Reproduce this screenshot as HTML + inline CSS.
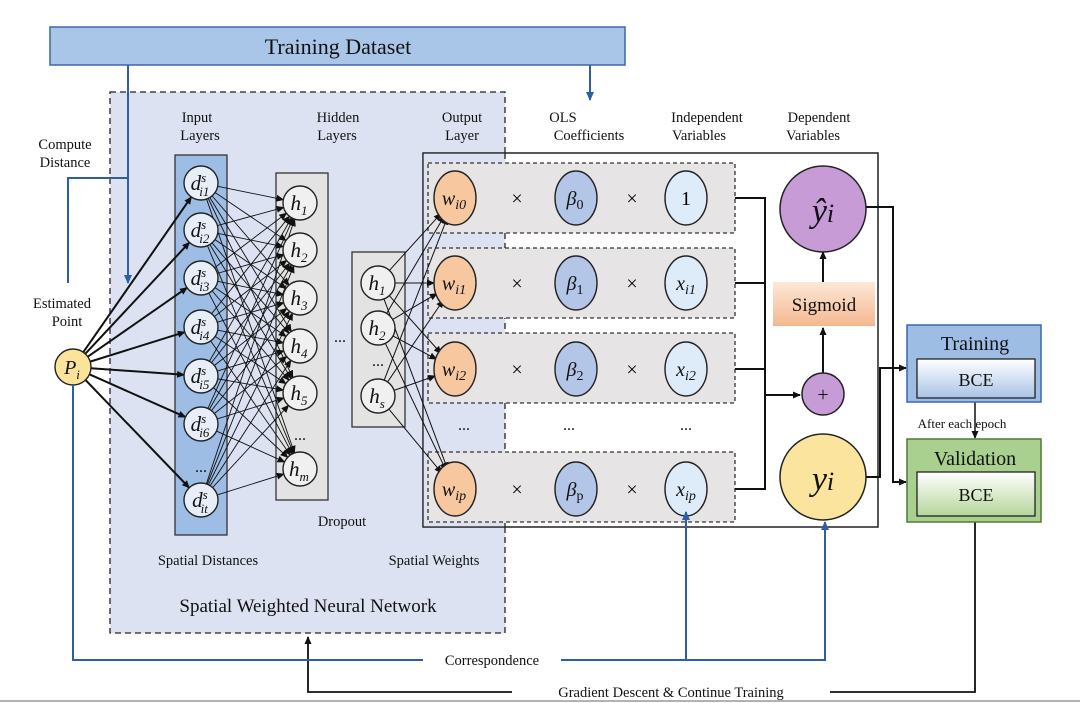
<!DOCTYPE html>
<html><head><meta charset="utf-8"><style>
html,body{margin:0;padding:0;background:#fff;}
svg{display:block;font-family:"Liberation Serif",serif;}
.lbl{font-size:14.5px;fill:#111;text-anchor:middle;}
.m{font-style:italic;text-anchor:middle;fill:#111;}
</style></head><body>
<svg id="s" width="1080" height="703" viewBox="0 0 1080 703" xmlns="http://www.w3.org/2000/svg">
<defs>
<marker id="ab" markerWidth="8" markerHeight="8" refX="7" refY="4" orient="auto" markerUnits="userSpaceOnUse"><path d="M0,0.5 L8,4 L0,7.5z" fill="#111"/></marker>
<marker id="abl" markerWidth="9" markerHeight="9" refX="8" refY="4.5" orient="auto" markerUnits="userSpaceOnUse"><path d="M0,0.5 L9,4.5 L0,8.5z" fill="#2f5ea8"/></marker>
<linearGradient id="sg" x1="0" y1="0" x2="0" y2="1"><stop offset="0" stop-color="#fde8d8"/><stop offset="1" stop-color="#f4b88f"/></linearGradient>
<linearGradient id="bg1" x1="0" y1="0" x2="0" y2="1"><stop offset="0" stop-color="#ffffff"/><stop offset="1" stop-color="#a9c3e6"/></linearGradient>
<linearGradient id="bg2" x1="0" y1="0" x2="0" y2="1"><stop offset="0" stop-color="#ffffff"/><stop offset="1" stop-color="#b5d69a"/></linearGradient>
</defs>

<!-- Training dataset -->
<rect x="50" y="27" width="575" height="38" fill="#a9c5e8" stroke="#3b67a8" stroke-width="1.5"/>
<text x="338" y="54" style="font-size:22px;text-anchor:middle;fill:#111">Training Dataset</text>

<!-- SWNN dashed box -->
<rect x="110" y="92" width="395" height="541" fill="#dde2f2" stroke="#222" stroke-width="1.3" stroke-dasharray="6,4"/>

<!-- blue lines top -->
<g stroke="#2f5ea8" stroke-width="2" fill="none">
<path d="M128,65 V283" marker-end="url(#abl)"/>
<path d="M128,178 H68 V283"/>
<path d="M590,65 V100" marker-end="url(#abl)"/>
</g>

<text class="lbl" x="65" y="149">Compute</text>
<text class="lbl" x="65" y="167">Distance</text>
<text class="lbl" x="62" y="308">Estimated</text>
<text class="lbl" x="67" y="326">Point</text>
<text class="lbl" x="197" y="122">Input</text>
<text class="lbl" x="200" y="140">Layers</text>
<text class="lbl" x="338" y="122">Hidden</text>
<text class="lbl" x="337" y="140">Layers</text>
<text class="lbl" x="462" y="122">Output</text>
<text class="lbl" x="462" y="140">Layer</text>
<text class="lbl" x="563" y="122">OLS</text>
<text class="lbl" x="589" y="140">Coefficients</text>
<text class="lbl" x="707" y="122">Independent</text>
<text class="lbl" x="699" y="140">Variables</text>
<text class="lbl" x="819" y="122">Dependent</text>
<text class="lbl" x="813" y="140">Variables</text>

<!-- column boxes -->
<rect x="175" y="155" width="52" height="380" fill="#9dbde5" stroke="#333" stroke-width="1.3"/>
<rect x="276" y="173" width="52" height="327" fill="#e3e3e3" stroke="#333" stroke-width="1.3"/>
<rect x="352" y="252" width="53" height="175" fill="#e3e3e3" stroke="#333" stroke-width="1.3"/>

<!-- output frame -->
<rect x="423" y="153" width="455" height="374" fill="#fff" stroke="#222" stroke-width="1.3"/>
<rect x="423" y="153" width="82" height="374" fill="#dde2f2"/>
<line x1="505" y1="153" x2="505" y2="527" stroke="#222" stroke-width="1.3" stroke-dasharray="6,4"/>
<rect x="423" y="153" width="455" height="374" fill="none" stroke="#222" stroke-width="1.3"/>
<g fill="#e6e4e4" stroke="#333" stroke-width="1.3" stroke-dasharray="4,3">
<rect x="428" y="163" width="307" height="70"/>
<rect x="428" y="248" width="307" height="70"/>
<rect x="428" y="333" width="307" height="70"/>
<rect x="428" y="452" width="307" height="70"/>
</g>

<g id="conn" stroke="#111" fill="none"></g>
<g id="nodes"></g>

<text class="lbl" x="201" y="472" style="font-size:16px">...</text>
<text class="lbl" x="300" y="440" style="font-size:16px">...</text>
<text class="lbl" x="378" y="366" style="font-size:16px">...</text>
<text class="lbl" x="340" y="342" style="font-size:16px">...</text>
<text class="lbl" x="464" y="430" style="font-size:16px">...</text>
<text class="lbl" x="569" y="430" style="font-size:16px">...</text>
<text class="lbl" x="686" y="430" style="font-size:16px">...</text>

<text class="lbl" x="342" y="526">Dropout</text>
<text class="lbl" x="208" y="565">Spatial Distances</text>
<text class="lbl" x="434" y="565">Spatial Weights</text>
<text x="308" y="612" style="font-size:19px;text-anchor:middle;fill:#111">Spatial Weighted Neural Network</text>

<!-- right side lines -->
<g stroke="#111" stroke-width="2" fill="none">
<path d="M735,198 H765 V489 H735"/>
<path d="M735,283 H765 M735,369 H765"/>
<path d="M765,395 H800" marker-end="url(#ab)"/>
<path d="M823,373 V328" marker-end="url(#ab)"/>
<path d="M823,282 V252" marker-end="url(#ab)"/>
<path d="M866,207 H893 V482 H906" marker-end="url(#ab)"/>
<path d="M866,477 H880 V368 H906" marker-end="url(#ab)"/>
<path d="M975,402 V438" stroke-width="1.5" marker-end="url(#ab)"/>
<path d="M975,522 V692 H308 V637" stroke-width="1.8" marker-end="url(#ab)"/>
</g>

<rect x="773" y="282" width="102" height="44" fill="url(#sg)"/>
<text x="824" y="311" style="font-size:19px;text-anchor:middle;fill:#111">Sigmoid</text>
<circle cx="823" cy="394" r="21" fill="#c79bd6" stroke="#222" stroke-width="1.5"/>
<text x="823" y="401" style="font-size:20px;text-anchor:middle;fill:#111">+</text>
<circle cx="823" cy="209" r="43" fill="#c79bd6" stroke="#222" stroke-width="1.5"/>
<text class="m" x="823" y="222" style="font-size:34px">ŷ<tspan style="font-size:26px">i</tspan></text>
<circle cx="823" cy="477" r="43" fill="#fbe59e" stroke="#222" stroke-width="1.5"/>
<text class="m" x="823" y="490" style="font-size:34px">y<tspan style="font-size:26px">i</tspan></text>

<rect x="907" y="325" width="134" height="77" fill="#9dbde5" stroke="#3b67a8" stroke-width="1.5"/>
<text x="975" y="350" style="font-size:20px;text-anchor:middle;fill:#111">Training</text>
<rect x="917" y="359" width="118" height="39" fill="url(#bg1)" stroke="#222" stroke-width="1.3"/>
<text x="976" y="386" style="font-size:18px;text-anchor:middle;fill:#111">BCE</text>
<text x="962" y="428" style="font-size:13px;text-anchor:middle;fill:#111;background:#fff">After each epoch</text>
<rect x="907" y="439" width="134" height="83" fill="#a9d08e" stroke="#4e7a36" stroke-width="1.5"/>
<text x="975" y="465" style="font-size:20px;text-anchor:middle;fill:#111">Validation</text>
<rect x="917" y="472" width="118" height="44" fill="url(#bg2)" stroke="#222" stroke-width="1.3"/>
<text x="976" y="501" style="font-size:18px;text-anchor:middle;fill:#111">BCE</text>

<!-- correspondence -->
<g stroke="#2f5ea8" stroke-width="2" fill="none">
<path d="M73,385 V660 H825 V522" marker-end="url(#abl)"/>
<path d="M686,660 V512" marker-end="url(#abl)"/>
</g>
<rect x="423" y="650" width="138" height="20" fill="#fff"/>
<text class="lbl" x="492" y="665">Correspondence</text>
<rect x="512" y="683" width="318" height="20" fill="#fff"/>
<text class="lbl" x="671" y="697">Gradient Descent &amp; Continue Training</text>
<line x1="0" y1="701" x2="1080" y2="701" stroke="#999" stroke-width="1.5"/>
</svg>
<script>
var NS="http://www.w3.org/2000/svg";
var conn=document.getElementById('conn'),nodes=document.getElementById('nodes');
function el(p,t,a,txt){var e=document.createElementNS(NS,t);for(var k in a)e.setAttribute(k,a[k]);if(txt!==undefined)e.innerHTML=txt;p.appendChild(e);return e;}
function line(x1,y1,x2,y2,w,arr){var a={x1:x1,y1:y1,x2:x2,y2:y2,'stroke-width':w};if(arr)a['marker-end']='url(#ab)';el(conn,'line',a);}
var P=[73,367];
var inY=[183,230,278,327,376,424,500],inX=201;
var inL=['1','2','3','4','5','6','t'];
var hY=[203,250,298,346,393,469],hX=300;
var hL=['1','2','3','4','5','m'];
var sY=[283,328,396],sX=378;var sL=['1','2','s'];
var rY=[198,283,369,489];
// Pi -> inputs
inY.forEach(function(y){var dx=inX-P[0],dy=y-P[1],d=Math.hypot(dx,dy);line(P[0]+18*dx/d,P[1]+18*dy/d,inX-17*dx/d,y-17*dy/d,2,true);});
// input -> hidden
inY.forEach(function(y1){hY.forEach(function(y2){var dx=hX-inX,dy=y2-y1,d=Math.hypot(dx,dy);line(inX+17*dx/d,y1+17*dy/d,hX-17*dx/d,y2-17*dy/d,0.9,true);});});
// hs -> w
sY.forEach(function(y1){rY.forEach(function(y2){var dx=455-sX,dy=y2-y1,d=Math.hypot(dx,dy);line(sX+17*dx/d,y1+17*dy/d,455-21*dx/d,y2-21*dy/d,1,true);});});
function circ(x,y,r,fill,label,sub,sup){el(nodes,'circle',{cx:x,cy:y,r:r,fill:fill,stroke:'#222','stroke-width':1.4});
 var t='<tspan>'+label+'</tspan>';
 if(sup){t='<tspan>'+label+'</tspan><tspan dy="-8" style="font-size:13px">'+sup+'</tspan><tspan dx="-7" dy="14" style="font-size:13px">'+sub+'</tspan>';}
 else if(sub){t+='<tspan dy="5" style="font-size:13px">'+sub+'</tspan>';}
 el(nodes,'text',{x:x-1,y:y+7,'class':'m',style:'font-size:21px'},t);}
el(nodes,'circle',{cx:73,cy:367,r:18,fill:'#fbe49a',stroke:'#222','stroke-width':1.4});
el(nodes,'text',{x:72,y:374,'class':'m',style:'font-size:20px'},'P<tspan dy="5" style="font-size:13px">i</tspan>');
inY.forEach(function(y,i){circ(inX,y,17,'#e8eef8','d','i'+inL[i],'s');});
hY.forEach(function(y,i){circ(hX,y,17,'#f0f0f0','h',hL[i]);});
sY.forEach(function(y,i){circ(sX,y,17,'#f0f0f0','h',sL[i]);});
var rs=['0','1','2','p'],xs=['1','x','x','x'],xsub=['','i1','i2','ip'];
function ell(x,y,fill){el(nodes,'ellipse',{cx:x,cy:y,rx:21,ry:27,fill:fill,stroke:'#222','stroke-width':1.4});}
rY.forEach(function(y,i){
 ell(455,y,'#f7c8a0');el(nodes,'text',{x:454,y:y+7,'class':'m',style:'font-size:20px'},'w<tspan dy="4" style="font-size:14px">i'+rs[i]+'</tspan>');
 el(nodes,'text',{x:517,y:y+7,style:'font-size:20px;text-anchor:middle'},'×');
 ell(576,y,'#b4c6e7');el(nodes,'text',{x:575,y:y+7,'class':'m',style:'font-size:20px'},'β<tspan dy="4" style="font-size:14px;font-style:normal">'+rs[i]+'</tspan>');
 el(nodes,'text',{x:632,y:y+7,style:'font-size:20px;text-anchor:middle'},'×');
 ell(686,y,'#deebf8');
 if(i==0)el(nodes,'text',{x:686,y:y+7,style:'font-size:20px;text-anchor:middle'},'1');
 else el(nodes,'text',{x:686,y:y+7,'class':'m',style:'font-size:20px'},'x<tspan dy="4" style="font-size:14px">'+xsub[i]+'</tspan>');
});
</script>
</body></html>
